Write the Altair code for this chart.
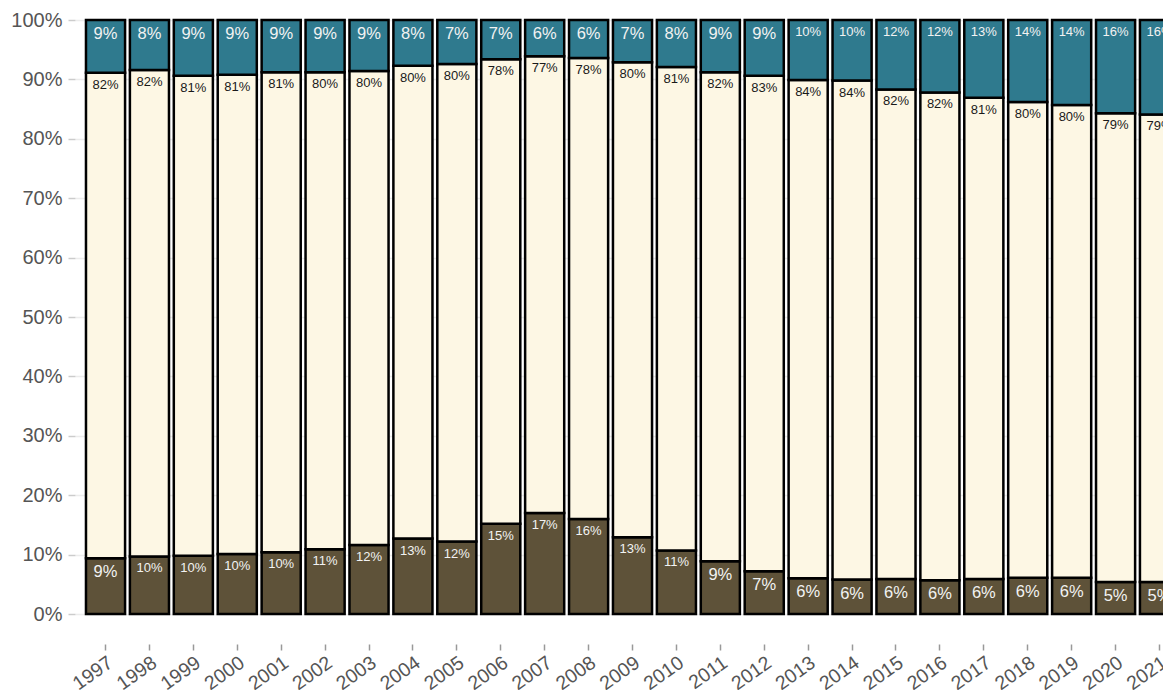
import altair as alt
import pandas as pd

years = ["1997", "1998", "1999", "2000", "2001", "2002", "2003", "2004", "2005",
         "2006", "2007", "2008", "2009", "2010", "2011", "2012", "2013", "2014",
         "2015", "2016", "2017", "2018", "2019", "2020", "2021"]

bottom = [9.4, 9.7, 9.8, 10.1, 10.4, 10.9, 11.6, 12.7, 12.2, 15.2, 17.0, 16.0, 12.9,
          10.7, 8.9, 7.2, 6.0, 5.8, 5.9, 5.7, 5.9, 6.1, 6.1, 5.4, 5.4]
middle = [81.7, 81.9, 80.8, 80.7, 80.8, 80.3, 79.8, 79.6, 80.4, 78.2, 76.9, 77.6, 80.0,
          81.4, 82.3, 83.4, 83.9, 84.0, 82.4, 82.1, 81.0, 80.1, 79.6, 78.9, 78.7]
top = [8.9, 8.4, 9.4, 9.2, 8.8, 8.8, 8.6, 7.7, 7.4, 6.6, 6.1, 6.4, 7.1,
       7.9, 8.8, 9.4, 10.1, 10.2, 11.7, 12.2, 13.1, 13.8, 14.3, 15.7, 15.9]

series_names = ["Bottom", "Middle", "Top"]
series_colors = ["#5e5239", "#fdf7e4", "#2f7a8e"]
y_ticks = [0, 10, 20, 30, 40, 50, 60, 70, 80, 90, 100]

rows = []
for i, yr in enumerate(years):
    for o, (s, vals) in enumerate(zip(series_names, (bottom, middle, top))):
        rows.append({"year": yr, "series": s, "value": vals[i], "order": o})
df = pd.DataFrame(rows)

base = alt.Chart(df).transform_stack(
    stack="value", groupby=["year"], as_=["y0", "y1"],
    sort=[alt.SortField("order", order="ascending")]
).transform_calculate(
    label="round(datum.value) + '%'",
    fs="length(round(datum.value) + '%') > 2 ? 13 : 16.5",
)

x_enc = alt.X(
    "year:N", title=None, sort=years,
    scale=alt.Scale(range=[0, 1115], paddingInner=0.11, paddingOuter=0.25),
    axis=alt.Axis(offset=30, labelAngle=-35, labelFontSize=19.5, labelColor="#555555",
                  tickColor="#999999", tickSize=6, tickWidth=1.5, domain=False,
                  labelPadding=3, grid=False),
)

bars = base.mark_bar(stroke="black", strokeWidth=2.5).encode(
    x=x_enc,
    y=alt.Y("y0:Q", title=None, scale=alt.Scale(domain=[0, 100], nice=False),
            axis=alt.Axis(values=y_ticks, labelExpr="datum.value + '%'", labelFontSize=20,
                          labelColor="#555555", tickColor="#cccccc", tickSize=7,
                          tickWidth=1.5, domain=False, gridColor="#ececec",
                          gridWidth=1.5, labelPadding=6)),
    y2="y1:Q",
    color=alt.Color("series:N", scale=alt.Scale(domain=series_names, range=series_colors),
                    legend=None),
)

labels = base.mark_text(baseline="top", dy=6).encode(
    x=x_enc,
    y=alt.Y("y1:Q", title=None),
    text="label:N",
    size=alt.Size("fs:Q", scale=None),
    color=alt.condition("datum.series == 'Middle'", alt.value("#1a1a1a"), alt.value("#f2f2f2")),
)

chart = alt.layer(bars, labels).properties(
    width=1088, height=594,
    padding={"left": 67, "top": 12, "right": 0, "bottom": 76},
    autosize=alt.AutoSizeParams(type="none"),
).configure(font="Liberation Sans").configure_view(stroke=None)

chart.save("out.html", embed_options={"renderer": "svg", "actions": False})
